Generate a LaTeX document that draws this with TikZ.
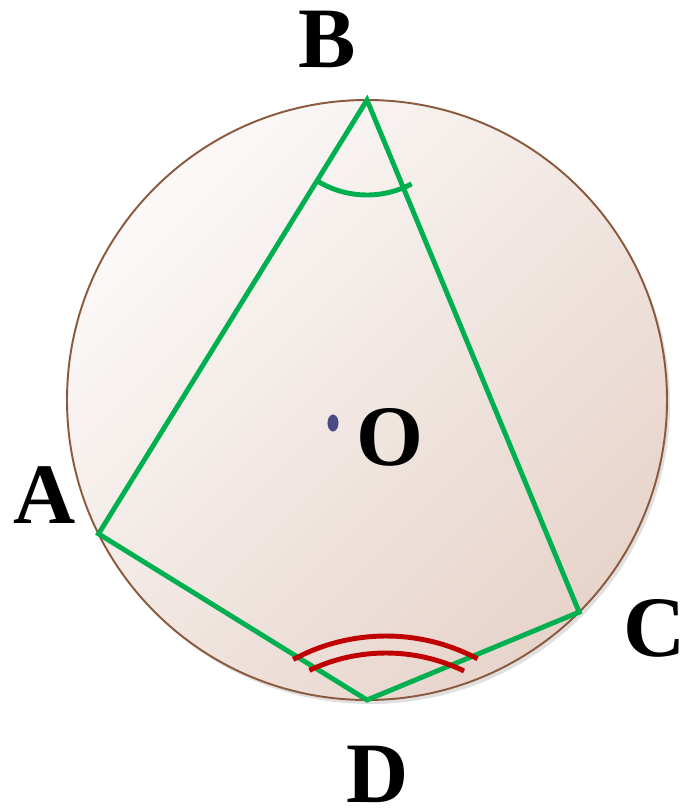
\documentclass[tikz,border=0pt]{standalone}
\usepackage{fontspec}
\setmainfont{Liberation Serif}
\usepackage{xcolor}
\usepackage{tikz}
\usetikzlibrary{calc}

\definecolor{chordgreen}{HTML}{00B050}
\definecolor{arcred}{HTML}{C00000}
\definecolor{rimbrown}{HTML}{8B5A3C}
\definecolor{dotblue}{HTML}{4A4B85}
\definecolor{discpale}{HTML}{FBF9F8}
\definecolor{discdeep}{HTML}{E7D4CB}

\tikzset{
  chord/.style={chordgreen,line width=2.8pt},
  markarc/.style={arcred,line width=2.8pt},
  ptlabel/.style={font=\fontsize{49}{56}\selectfont\bfseries,inner sep=0pt}
}

\begin{document}
\begin{tikzpicture}
  % frame of the picture
  \useasboundingbox (-7.34,-8.16) rectangle (6.44,8.0);

  % circle of radius 6 centred at O
  \coordinate (O) at (0,0);
  \def\radius{6}

  % vertices on the circle
  \coordinate (B) at (90:\radius);
  \coordinate (A) at (206.5:\radius);
  \coordinate (C) at (-45:\radius);
  \coordinate (D) at (270:\radius);

  % soft shadow, then the shaded disc
  \fill[black,opacity=0.12] ($(O)+(0.06,-0.08)$) circle (\radius);
  \shade[top color=discpale,bottom color=discdeep,shading angle=45]
    (O) circle (\radius);
  \draw[rimbrown,line width=1.1pt] (O) circle (\radius);

  % quadrilateral ABCD
  \draw[chord,line join=miter] (A) -- (B) -- (C) -- (D) -- cycle;

  % angle at B
  \draw[chord] (B) ++(238:1.9) arc (238:298:1.9);

  % double arc near D
  \coordinate (E) at (0.38,-8.62);
  \draw[markarc] (E) ++(118.4:3.9) arc (118.4:62:3.9);
  \draw[markarc] (E) ++(115.5:3.56) arc (115.5:64:3.56);

  % centre dot
  \fill[dotblue] (-0.68,-0.46) ellipse (0.11 and 0.17);

  % Labels
  \node[ptlabel] (lblB) at (-0.8,7.22) {B};
  \node[ptlabel] (lblA) at (-6.44,-1.9) {A};
  \node[ptlabel] (lblC) at (5.76,-4.56) {C};
  \node[ptlabel] (lblD) at (0.22,-7.48) {D};
  \node[ptlabel] (lblO) at (0.46,-0.74) {O};
\end{tikzpicture}
\end{document}
